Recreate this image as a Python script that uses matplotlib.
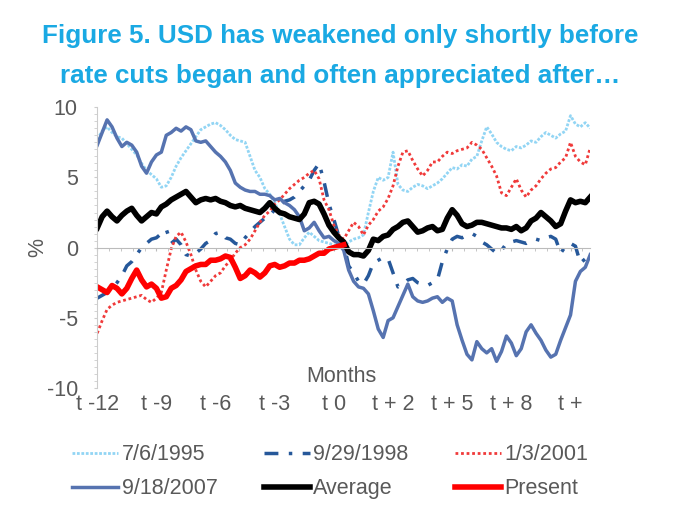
import numpy as np
import matplotlib
matplotlib.use("Agg")
import matplotlib.pyplot as plt
from matplotlib.ticker import MultipleLocator

plt.rcParams["axes.unicode_minus"] = False

# days since t-12, one reading every 5 trading days
step = 5

usd_1995 = [7.7, 8.3, 8.6, 8.2, 7.9, 7.8, 7.4, 7.0, 6.6, 6.0,
            5.5, 5.2, 4.9, 4.3, 4.4, 5.0, 5.8, 6.4, 6.9, 7.4,
            7.9, 8.4, 8.6, 8.8, 8.9, 8.7, 8.4, 8.0, 7.7, 7.6,
            7.5, 6.5, 5.5, 5.0, 4.2, 3.8, 3.2, 2.4, 1.5, 0.6,
            0.2, 0.2, 0.7, 1.1, 0.8, 0.5, 0.4, 0.3, 0.2, 0.1,
            0.1, 0.4, 0.6, 0.7, 0.9, 2.5, 4.0, 5.0, 4.8, 5.0,
            6.8, 4.5, 4.1, 4.0, 4.3, 4.5, 4.4, 4.2, 4.4, 4.6,
            4.9, 5.3, 5.7, 5.6, 5.9, 5.8, 6.3, 6.5, 7.6, 8.6,
            8.1, 7.5, 7.2, 7.0, 6.9, 7.2, 7.1, 7.3, 7.6, 7.5,
            7.9, 8.2, 8.0, 7.8, 8.1, 8.3, 9.4, 8.8, 8.6, 8.9, 8.5]
usd_1998 = [-3.6, -3.4, -3.2, -2.9, -2.5, -2.0, -1.3, -1.0, -0.5, 0.0,
            0.3, 0.6, 0.7, 1.0, 1.3, 0.3, 0.6, 0.2, -0.5, -0.6,
            -0.4, -0.1, 0.3, 0.5, 1.0, 1.1, 0.7, 0.6, 0.3, 0.2,
            0.7, 1.1, 1.5, 1.8, 2.1, 2.3, 2.7, 3.0, 3.3, 3.4,
            3.6, 4.0, 4.4, 4.8, 5.5, 6.0, 4.7, 3.1, 2.0, 0.8,
            0.3, -1.3, -1.8, -2.4, -2.6, -2.0, -1.1, -0.9, -0.7, -0.8,
            -1.8, -2.8, -2.6, -2.3, -2.2, -2.5, -2.6, -2.7, -2.5, -2.3,
            -1.0, -0.1, 0.6, 0.8, 0.7, 0.9, 1.0, 0.8, 0.4, 0.2,
            -0.1, -0.4, -0.2, 0.3, 0.4, 0.5, 0.4, 0.3, 0.5, 0.6,
            0.5, 0.7, 0.8, 0.6, -0.4, 0.1, 0.3, 0.1, -1.1, -0.8, -1.4]
usd_2001 = [-6.1, -5.2, -4.4, -4.1, -3.9, -3.8, -3.7, -3.6, -3.5, -3.4,
            -3.7, -3.9, -3.6, -3.2, -1.6, -0.1, 0.8, 1.1, 0.4, -0.5,
            -1.6, -2.4, -2.8, -2.4, -2.0, -1.8, -1.3, -0.9, -0.4, 0.0,
            0.2, 0.6, 1.2, 1.8, 2.3, 2.6, 3.1, 3.4, 3.8, 4.2,
            4.5, 4.8, 5.0, 5.3, 5.5, 4.9, 3.4, 2.7, 1.6, 0.9,
            0.6, 1.2, 1.8, 1.5, 0.9, 1.6, 2.0, 2.6, 2.9, 3.5,
            4.4, 5.8, 6.8, 6.9, 6.2, 5.6, 5.1, 5.5, 6.1, 6.1,
            6.5, 6.8, 6.7, 6.9, 7.0, 7.1, 7.5, 7.3, 7.0, 6.4,
            5.8, 5.1, 3.9, 3.7, 4.3, 4.9, 4.1, 3.6, 4.1, 4.4,
            4.9, 5.3, 5.6, 5.7, 6.1, 6.4, 7.5, 6.5, 6.1, 5.9, 7.1]
usd_2007 = [7.3, 8.2, 9.1, 8.6, 7.8, 7.2, 7.5, 7.3, 6.8, 5.8,
            5.3, 6.1, 6.6, 6.8, 8.0, 8.2, 8.5, 8.3, 8.6, 8.4,
            7.6, 7.5, 7.6, 7.2, 6.8, 6.5, 6.1, 5.5, 4.6, 4.3,
            4.1, 4.0, 4.0, 3.8, 3.8, 3.7, 3.4, 3.5, 3.2, 3.0,
            2.7, 2.2, 1.2, 1.4, 1.8, 1.2, 0.7, 0.8, 0.5, 0.3,
            -0.2, -1.6, -2.4, -2.8, -2.9, -3.3, -4.5, -5.8, -6.4, -5.2,
            -5.0, -4.2, -3.4, -2.6, -3.5, -3.8, -3.9, -3.8, -3.6, -3.5,
            -3.9, -3.6, -3.8, -5.5, -6.6, -7.6, -8.0, -6.7, -7.2, -7.5,
            -7.2, -8.1, -7.4, -6.3, -6.8, -7.7, -7.2, -6.0, -5.5, -6.1,
            -6.6, -7.3, -7.8, -7.6, -6.6, -5.7, -4.8, -2.4, -1.7, -1.4, -0.5]
usd_avg = [1.4, 2.2, 2.6, 2.2, 1.9, 2.3, 2.6, 2.8, 2.3, 1.9,
           2.2, 2.5, 2.4, 2.9, 3.1, 3.4, 3.6, 3.8, 4.0, 3.6,
           3.2, 3.4, 3.5, 3.4, 3.5, 3.3, 3.2, 3.0, 2.9, 3.0,
           2.8, 2.7, 2.6, 2.5, 2.8, 3.2, 2.8, 2.5, 2.4, 2.2,
           2.1, 2.0, 2.4, 3.2, 3.3, 3.1, 2.4, 1.6, 1.1, 0.7,
           0.4, -0.3, -0.5, -0.5, -0.6, -0.2, 0.6, 0.5, 0.8, 0.9,
           1.3, 1.5, 1.8, 1.9, 1.5, 1.1, 1.2, 1.4, 1.5, 1.2,
           1.3, 2.1, 2.7, 2.3, 1.7, 1.5, 1.6, 1.8, 1.8, 1.7,
           1.6, 1.5, 1.4, 1.4, 1.3, 1.5, 1.2, 1.4, 1.9, 2.1,
           2.5, 2.2, 1.9, 1.5, 1.7, 2.6, 3.4, 3.2, 3.3, 3.2, 3.6]
usd_now = [-2.8, -3.0, -3.2, -2.7, -2.9, -3.3, -2.9, -2.2, -1.6, -2.3,
           -2.8, -2.6, -2.9, -3.6, -3.5, -2.9, -2.7, -2.3, -1.7, -1.5,
           -1.3, -1.2, -1.2, -0.9, -0.9, -0.8, -0.6, -0.7, -1.4, -2.2,
           -2.0, -1.6, -1.8, -2.1, -1.8, -1.3, -1.2, -1.4, -1.3, -1.1,
           -1.1, -0.9, -0.9, -0.8, -0.6, -0.4, -0.4, -0.1, 0.0, 0.1, 0.2]

tick_days = [0, 60, 120, 180, 240, 300, 360, 420, 480]
tick_labels = ["t -12", "t -9", "t -6", "t -3", "t 0", "t + 2", "t + 5", "t + 8", "t +"]

series = [
    ("7/6/1995", usd_1995, dict(color="#92d5f4", lw=2, ls=(0, (1, 0.6)))),
    ("9/29/1998", usd_1998, dict(color="#26589a", lw=2.5, ls=(0, (4, 3, 1, 3)))),
    ("1/3/2001", usd_2001, dict(color="#f03a3a", lw=2, ls=(0, (1, 1)))),
    ("9/18/2007", usd_2007, dict(color="#5673b0", lw=2.5, ls="-")),
    ("Average", usd_avg, dict(color="black", lw=4, ls="-")),
    ("Present", usd_now, dict(color="#ff0000", lw=4, ls="-")),
]

fnt = ["Liberation Sans", "DejaVu Sans"]
grey = "#595959"

fig = plt.figure(figsize=(6.8, 5.18), dpi=100)
ax = fig.add_axes([0.143, 0.251, 0.725, 0.542])

lines = {}
for name, vals, style in series:
    days = np.arange(len(vals)) * step
    lines[name], = ax.plot(days, vals, label=name, **style)

ax.set_xlim(0, 500)
ax.set_ylim(-10, 10)

# zero line doubles as the x axis
ax.spines["bottom"].set_position(("data", 0))
ax.spines["bottom"].set_color("#bbbbbb")
ax.spines["left"].set_color("#cccccc")
ax.spines["top"].set_visible(False)
ax.spines["right"].set_visible(False)
ax.set_xticks(tick_days)
ax.set_xticklabels([])
ax.xaxis.set_minor_locator(MultipleLocator(12))
ax.tick_params(axis="x", which="both", length=2, color="#bbbbbb", direction="out")

ax.set_yticks([-10, -5, 0, 5, 10])
ax.yaxis.set_minor_locator(MultipleLocator(0.5))
ax.tick_params(axis="y", which="both", length=2, color="#cccccc", pad=12)
for lab in ax.get_yticklabels():
    lab.set_family(fnt)
    lab.set_fontsize(15.5)
    lab.set_color(grey)

for d, lab in zip(tick_days, tick_labels):
    ax.text(d, -0.06, lab, transform=ax.get_xaxis_transform(), ha="center", va="center",
            fontsize=15.5, color=grey, family=fnt)

ax.text(248, -9.2, "Months", ha="center", va="center", fontsize=15.5, color=grey, family=fnt)
ax.set_ylabel("%", fontsize=15.5, color=grey, family=fnt)
ax.yaxis.set_label_coords(-0.1, 0.5)

fig.text(0.5, 0.930, "Figure 5. USD has weakened only shortly before", ha="center", va="center",
         fontsize=18.7, fontweight="bold", color="#1aa9e3", family=fnt)
fig.text(0.5, 0.853, "rate cuts began and often appreciated after\u2026", ha="center", va="center",
         fontsize=18.7, fontweight="bold", color="#1aa9e3", family=fnt)

# legend reads across the rows: matplotlib fills columns first
order = ["7/6/1995", "9/18/2007", "9/29/1998", "Average", "1/3/2001", "Present"]
leg = ax.legend([lines[n] for n in order], order, loc="upper left",
                bbox_to_anchor=(-0.051, -0.2), ncol=3, frameon=False,
                prop={"family": fnt, "size": 15.5}, handlelength=2.15, handletextpad=0.15,
                columnspacing=2.15, labelspacing=0.6, borderpad=0, borderaxespad=0)
for t in leg.get_texts():
    t.set_color(grey)

fig.savefig("out.png", dpi=100)
